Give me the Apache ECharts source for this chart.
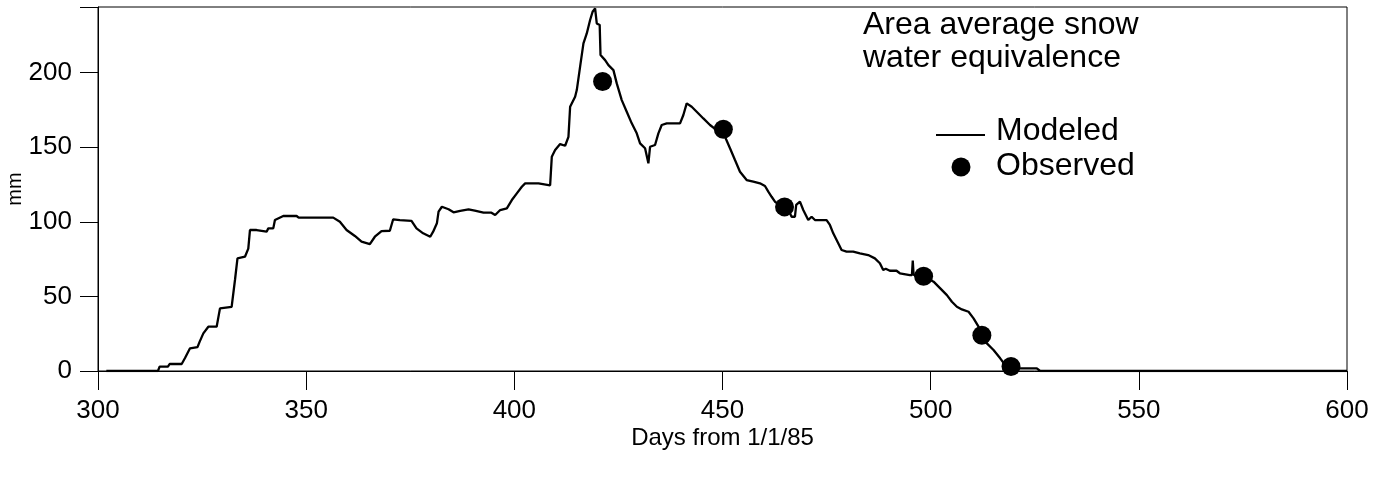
<!DOCTYPE html>
<html>
<head>
<meta charset="utf-8">
<script src="https://cdn.jsdelivr.net/npm/echarts@6/dist/echarts.min.js"></script>
<style>
html,body{margin:0;padding:0;background:#fff;}
#chart{width:1389px;height:480px;}
</style>
</head>
<body>
<div id="chart"></div>
<script>
// Modeled area-average SWE (days from 1/1/85, mm)
const modeledDays = [302,314.4,314.8,316.8,317.2,320.1,320.9,322.1,323.9,324.4,325.3,326.5,328.5,329.3,332.1,332.9,333.5,335.3,336.1,336.5,338.1,338.5,340.5,340.9,342.1,342.5,344.5,347.7,348.2,356.5,358.1,359.7,361.7,363.3,365.3,366.5,368.1,370.1,370.9,372.5,375.3,376.5,378.1,379.8,380.5,381.4,381.8,382.6,384.2,385.4,387,389,390.5,392.6,394.5,395.4,396.6,398.2,399.4,400.6,401.8,402.6,405.8,406.1,408.6,409,409.8,411,412.2,413,413.4,414.6,415,415.8,416.6,417.4,418.2,418.8,419.4,419.8,420.5,420.7,421.8,422.6,423.8,424.6,425.8,427,428.2,429.4,430.2,431.4,432.2,432.6,433.8,434.6,435.4,436.6,439.8,440.6,441.4,442.6,443.8,445.4,447,448.6,450.6,451.8,453,454.2,455.8,457.4,459,460.2,461,461.8,462.6,464,465.5,466.2,466.6,467.4,467.7,468.6,469.4,470.6,471.4,472.2,475,475.8,476.6,477.8,478.6,479.8,481.4,483,485,486.6,487.8,488.6,489.2,490.2,491.8,492.6,495,495.5,495.7,495.9,498.3,500.7,502.3,503.9,505.1,506.3,507.5,509.1,510.3,511.5,513.5,515.1,516.7,517.9,519.9,525.5,526.3,600];
const modeledSwe = [0,0,2.9,2.9,4.7,4.7,8.7,15.2,16,19.5,25.2,29.7,29.7,42,43,61,75.5,76.6,82,94.5,94.5,93.4,93.4,95.6,95.6,101.2,103.9,103.9,102.8,102.8,100,94.5,90.5,86.7,85.1,90,93.8,94,101.7,101.2,100.7,95.6,92.3,90,93.4,99,106.8,110.1,108.4,106.4,107.4,108.4,107.5,106.1,106.1,104.6,107.9,109,114.6,119.1,123.5,125.8,125.8,124.5,124.5,143.6,148.1,152.1,151,157,177.1,183.8,188.3,204,219.6,226.3,235.3,240.8,243,233,232,211.8,208.4,205,201.7,192.8,181.6,173.8,166,159.3,152.6,149.3,139.2,150.3,151.5,159.3,164.9,166,166,171.6,179.4,177.1,173.8,169.3,164.9,161.5,157,149.3,141.4,133.6,128,126.9,125.8,124,120.2,116.8,113.5,111,108,105.7,103.4,103.4,111.3,113.5,107.9,101.2,103.4,101.2,101.2,97.9,92.3,85.6,81.1,80,80,78.9,77.7,75.5,72.2,67.7,68.5,67.2,67.2,65.5,64.3,64.3,74.1,64.5,63.5,59.9,55.4,50.9,46.4,43.1,41.3,39.7,35.3,29.7,18.5,14.1,8.5,4,1.8,1.8,0,0];
// Observed
const observedDays = [421.2,450.2,464.9,498.3,512.3,519.3];
const observedSwe = [194,162,110,63.5,24,3];
// Axes
const xTicks = [300,350,400,450,500,550,600];
const yTicks = [0,50,100,150,200];
const legendNames = ['Modeled','Observed'];

const FONT = "'Liberation Sans', Arial, Helvetica, sans-serif";
const chart = echarts.init(document.getElementById('chart'), null, {renderer:'canvas'});
chart.setOption({
  animation:false,
  backgroundColor:'#fff',
  title:{
    text:'Area average snow\nwater equivalence',
    left:858, top:4,
    textStyle:{fontFamily:FONT,fontSize:32,fontWeight:'normal',color:'#000',lineHeight:33}
  },
  graphic:[
    {type:'line',shape:{x1:936,y1:135,x2:985,y2:135},style:{stroke:'#000',lineWidth:2}},
    {type:'circle',shape:{cx:961,cy:167,r:9.5},style:{fill:'#000'}},
    {type:'text',x:996,y:131,style:{text:legendNames[0],font:"32px 'Liberation Sans', Arial, sans-serif",fill:'#000',verticalAlign:'middle'}},
    {type:'text',x:996,y:166,style:{text:legendNames[1],font:"32px 'Liberation Sans', Arial, sans-serif",fill:'#000',verticalAlign:'middle'}}
  ],
  grid:{left:98,right:42,top:7,bottom:109,containLabel:false,outerBoundsMode:'none',show:true,borderColor:'#000',borderWidth:1,backgroundColor:'transparent'},
  xAxis:{
    type:'value', min:xTicks[0], max:xTicks[xTicks.length-1], interval:50,
    name:'Days from 1/1/85', nameLocation:'middle', nameGap:55, nameMoveOverlap:false,
    nameTextStyle:{fontFamily:FONT,fontSize:24,color:'#000'},
    axisLine:{onZero:false,lineStyle:{color:'#000',width:1}},
    axisTick:{show:true,length:19,lineStyle:{color:'#000',width:1}},
    axisLabel:{fontFamily:FONT,fontSize:26,color:'#000',margin:27},
    splitLine:{show:false}
  },
  yAxis:{
    type:'value', min:0, max:244, interval:50,
    name:'mm', nameLocation:'middle', nameGap:73, nameMoveOverlap:false,
    nameTextStyle:{fontFamily:FONT,fontSize:20,color:'#000'},
    axisLine:{show:true,lineStyle:{color:'#000',width:1}},
    axisTick:{show:true,length:18,lineStyle:{color:'#000',width:1}},
    axisLabel:{fontFamily:FONT,fontSize:26,color:'#000',margin:26,
      formatter:v=> yTicks.indexOf(v)>=0 ? String(v) : ''},
    splitLine:{show:false}
  },
  series:[
    {name:'Modeled',type:'line',showSymbol:false,symbol:'none',
     data:modeledDays.map((d,i)=>[d,modeledSwe[i]]),
     lineStyle:{color:'#000',width:2.3},itemStyle:{color:'#000'},z:3},
    {name:'Observed',type:'scatter',symbol:'circle',symbolSize:19,
     data:observedDays.map((d,i)=>[d,observedSwe[i]]),
     itemStyle:{color:'#000',opacity:1},z:4}
  ]
});
</script>
</body>
</html>
